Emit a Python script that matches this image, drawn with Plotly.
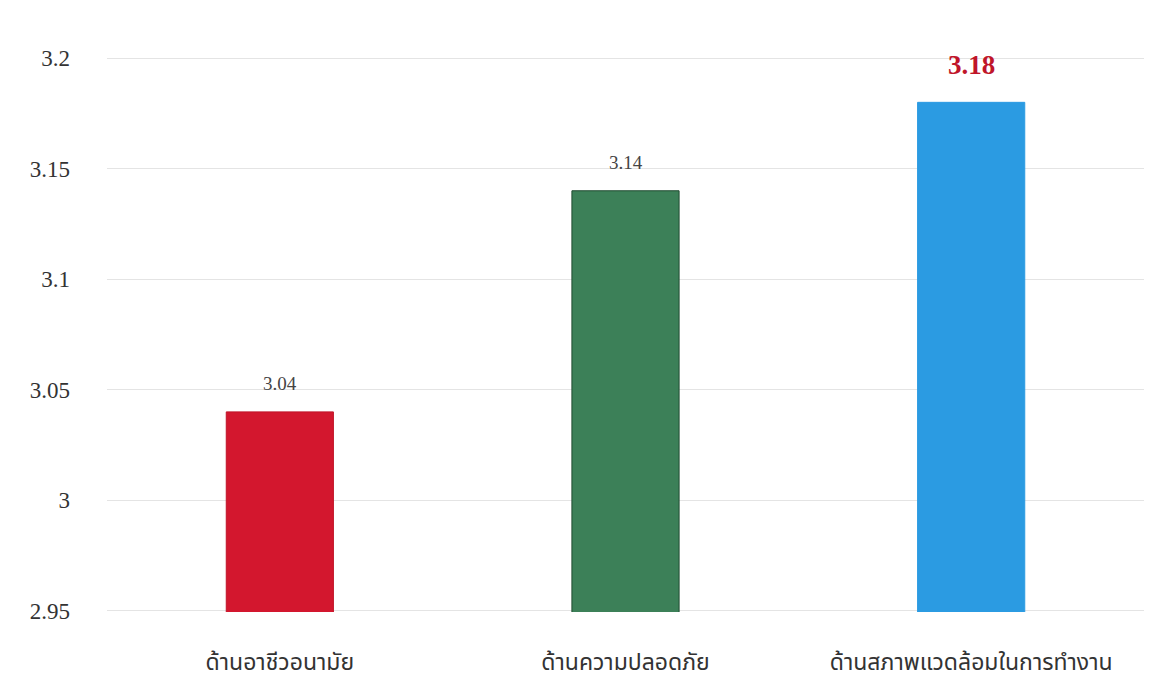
import plotly.graph_objects as go

categories = ["ด้านอาชีวอนามัย", "ด้านความปลอดภัย", "ด้านสภาพแวดล้อมในการทำงาน"]
values = [3.04, 3.14, 3.18]
bar_colors = ["#D3172E", "#3C8058", "#2B9BE2"]
line_colors = ["#C01428", "#1F4A30", "#2B9BE2"]
y_ticks = [2.95, 3.0, 3.05, 3.1, 3.15, 3.2]
y_tick_labels = ["2.95", "3", "3.05", "3.1", "3.15", "3.2"]

fig = go.Figure()
fig.add_trace(go.Bar(
    x=categories, y=values,
    marker=dict(color=bar_colors, line=dict(color=line_colors, width=1)),
    hoverinfo="x+y",
))

label_fonts = [
    dict(family="Liberation Serif", size=19, color="#444444"),
    dict(family="Liberation Serif", size=19, color="#444444"),
    dict(family="Liberation Serif", size=27, color="#C0152A", weight="bold"),
]
shifts = [16, 16, 20]
for c, v, f, s in zip(categories, values, label_fonts, shifts):
    fig.add_annotation(x=c, y=v, text=f"{v:.2f}", showarrow=False,
                       yanchor="bottom", yshift=s, font=f)

fig.update_layout(
    width=1161, height=685,
    margin=dict(l=99, r=25, t=49, b=81),
    paper_bgcolor="white", plot_bgcolor="white",
    bargap=0.69,
    showlegend=False,
    font=dict(family="Liberation Serif, Noto Sans Thai, Noto Sans, serif", color="#333333"),
)
fig.update_yaxes(
    range=[2.9495, 3.2005], tickvals=y_ticks, ticktext=y_tick_labels,
    showgrid=True, gridcolor="#E4E4E4", gridwidth=1,
    zeroline=False, showline=False,
    tickfont=dict(size=23, family="Liberation Serif", color="#333333"),
    ticklabelstandoff=36,
)
fig.update_xaxes(
    showgrid=False, showline=False, zeroline=False,
    tickfont=dict(size=23, family="Liberation Serif, Noto Sans Thai, serif", color="#333333"),
    ticklabelstandoff=34,
)

fig.write_html("out.html")
